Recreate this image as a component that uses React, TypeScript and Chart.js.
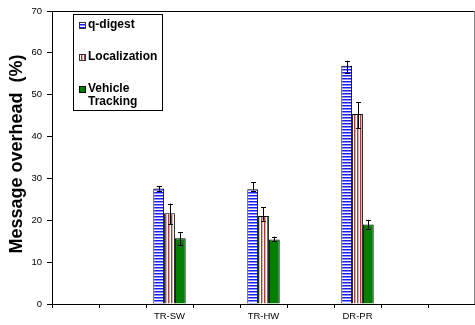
import React, { useEffect, useRef } from "react";
import { Chart, registerables } from "chart.js";

Chart.register(...registerables);

const categories = ["", "", "TR-SW", "", "TR-HW", "", "DR-PR", "", ""];
const seriesNames = ["q-digest", "Localization", "Vehicle Tracking"];
const qDigest = [null, null, 27.6, null, 27.4, null, 56.9, null, null];
const localization = [null, null, 21.7, null, 21.0, null, 45.4, null, null];
const vehicleTracking = [null, null, 15.7, null, 15.4, null, 19.0, null, null];
const qDigestLow = [null, null, 27.1, null, 27.1, null, 55.1, null, null];
const qDigestHigh = [null, null, 28.2, null, 29.1, null, 58.1, null, null];
const localizationLow = [null, null, 19.1, null, 19.9, null, 42.0, null, null];
const localizationHigh = [null, null, 24.0, null, 23.1, null, 48.2, null, null];
const vehicleLow = [null, null, 14.0, null, 15.0, null, 18.0, null, null];
const vehicleHigh = [null, null, 17.1, null, 16.1, null, 20.1, null, null];
const yTicks = [0, 10, 20, 30, 40, 50, 60, 70];
const yTitle = "Message overhead  (%)";

const FONT = "'Liberation Sans', Arial, sans-serif";

function makeHPattern(ctx: CanvasRenderingContext2D): CanvasPattern | string {
  const c = document.createElement("canvas");
  c.width = 3;
  c.height = 3;
  const g = c.getContext("2d")!;
  g.fillStyle = "#ffffff";
  g.fillRect(0, 0, 3, 3);
  g.fillStyle = "#1a1aff";
  g.fillRect(0, 0, 3, 1);
  g.fillStyle = "#8c8cff";
  g.fillRect(0, 1, 3, 1);
  return ctx.createPattern(c, "repeat") || "#4444ff";
}

function makeVPattern(ctx: CanvasRenderingContext2D): CanvasPattern | string {
  const c = document.createElement("canvas");
  c.width = 3;
  c.height = 3;
  const g = c.getContext("2d")!;
  g.fillStyle = "#ffffff";
  g.fillRect(0, 0, 3, 3);
  g.fillStyle = "#a04040";
  g.fillRect(0, 0, 1, 3);
  g.fillStyle = "#d8b0b0";
  g.fillRect(1, 0, 1, 3);
  return ctx.createPattern(c, "repeat") || "#c08080";
}

export default function App() {
  const ref = useRef<HTMLCanvasElement | null>(null);

  useEffect(() => {
    document.body.style.margin = "0";
    const canvas = ref.current!;
    const ctx = canvas.getContext("2d")!;
    const hPat = makeHPattern(ctx);
    const vPat = makeVPattern(ctx);
    const lows = [qDigestLow, localizationLow, vehicleLow];
    const highs = [qDigestHigh, localizationHigh, vehicleHigh];
    const fills = [hPat, vPat, "#008000"];

    const extras = {
      id: "extras",
      afterDatasetsDraw(chart: any) {
        const c = chart.ctx as CanvasRenderingContext2D;
        const y = chart.scales.y;
        const area = chart.chartArea;
        c.save();
        // error bars
        c.strokeStyle = "#000000";
        c.lineWidth = 1;
        for (let d = 0; d < 3; d++) {
          const meta = chart.getDatasetMeta(d);
          meta.data.forEach((el: any, i: number) => {
            const lo = lows[d][i];
            const hi = highs[d][i];
            if (lo == null || hi == null) return;
            const x = Math.round(el.x) + 0.5;
            const y1 = y.getPixelForValue(lo);
            const y2 = y.getPixelForValue(hi);
            c.beginPath();
            c.moveTo(x, y1);
            c.lineTo(x, y2);
            c.moveTo(x - 2.5, Math.round(y1) + 0.5);
            c.lineTo(x + 2.5, Math.round(y1) + 0.5);
            c.moveTo(x - 2.5, Math.round(y2) + 0.5);
            c.lineTo(x + 2.5, Math.round(y2) + 0.5);
            c.stroke();
          });
        }
        // plot border top and right
        c.beginPath();
        c.strokeStyle = "#000000";
        c.moveTo(area.left, Math.round(area.top) + 0.5);
        c.lineTo(area.right, Math.round(area.top) + 0.5);
        c.stroke();
        c.beginPath();
        c.strokeStyle = "#888888";
        c.moveTo(Math.round(area.right) - 0.5, area.top);
        c.lineTo(Math.round(area.right) - 0.5, area.bottom);
        c.stroke();

        // legend
        c.fillStyle = "#ffffff";
        c.fillRect(73, 14, 90, 97);
        c.strokeStyle = "#000000";
        c.strokeRect(73.5, 14.5, 89, 96);
        const rows = [25, 57, 89];
        c.font = `bold 12px ${FONT}`;
        c.textBaseline = "middle";
        c.textAlign = "left";
        for (let d = 0; d < 3; d++) {
          c.fillStyle = fills[d] as any;
          c.fillRect(79, rows[d] - 3, 7, 7);
          c.strokeStyle = d === 2 ? "#000000" : "#333333";
          c.strokeRect(79.5, rows[d] - 2.5, 6, 6);
          c.fillStyle = "#000000";
          const name = seriesNames[d];
          if (d === 2) {
            const parts = name.split(" ");
            c.fillText(parts[0], 88, rows[d]);
            c.fillText(parts[1], 88, rows[d] + 13);
          } else {
            c.fillText(name, 88, rows[d]);
          }
        }

        // y title
        c.save();
        c.translate(17, 154);
        c.rotate(-Math.PI / 2);
        c.font = `bold 18px ${FONT}`;
        c.textAlign = "center";
        c.textBaseline = "middle";
        c.fillStyle = "#000000";
        c.fillText(yTitle, 0, 0);
        c.restore();
        c.restore();
      },
    };

    const chart = new Chart(canvas, {
      type: "bar",
      data: {
        labels: categories,
        datasets: [
          { label: seriesNames[0], data: qDigest as any, backgroundColor: hPat as any, borderColor: "#000000", borderWidth: 1 },
          { label: seriesNames[1], data: localization as any, backgroundColor: vPat as any, borderColor: "#000000", borderWidth: 1 },
          { label: seriesNames[2], data: vehicleTracking as any, backgroundColor: "#008000", borderColor: "#000000", borderWidth: 1 },
        ],
      },
      options: {
        animation: false,
        responsive: false,
        devicePixelRatio: 1,
        layout: { padding: { top: 11, right: 0, bottom: 0, left: 0 } },
        datasets: { bar: { barPercentage: 1, categoryPercentage: 0.69, skipNull: false } },
        plugins: { legend: { display: false }, tooltip: { enabled: false } },
        scales: {
          x: {
            grid: { offset: true, drawOnChartArea: false, tickLength: 4, color: "#000000" },
            border: { color: "#000000", width: 1 },
            ticks: { color: "#000000", font: { family: FONT, size: 9.5 }, padding: 3, maxRotation: 0, autoSkip: false },
            afterFit: (s: any) => { s.height = 21; },
          },
          y: {
            min: 0,
            max: 70,
            afterBuildTicks: (s: any) => { s.ticks = yTicks.map((v) => ({ value: v })); },
            grid: { drawOnChartArea: false, tickLength: 5, color: "#000000" },
            border: { color: "#000000", width: 1 },
            ticks: { color: "#000000", font: { family: FONT, size: 9.5 }, padding: 5 },
            afterFit: (s: any) => { s.width = 52; },
          },
        },
      },
      plugins: [extras],
    });
    return () => chart.destroy();
  }, []);

  return (
    <div style={{ width: 475, height: 325, position: "relative" }}>
      <canvas ref={ref} width={475} height={325} style={{ display: "block", width: 475, height: 325 }} />
    </div>
  );
}
